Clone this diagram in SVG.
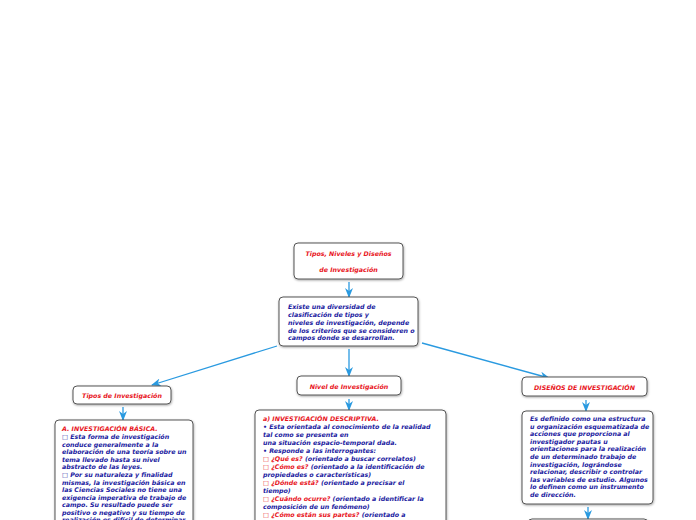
<svg xmlns="http://www.w3.org/2000/svg" width="696" height="520" viewBox="0 0 696 520">
<defs>
<marker id="ah" markerWidth="10" markerHeight="8" refX="9" refY="4" orient="auto" markerUnits="userSpaceOnUse">
<path d="M0,0 L10,4 L0,8 L3,4 Z" fill="#2a9ae0"/>
</marker>
<filter id="sh" x="-10%" y="-10%" width="120%" height="130%">
<feDropShadow dx="0.5" dy="1" stdDeviation="0.8" flood-color="#000" flood-opacity="0.35"/>
</filter>
</defs>
<style>
.box{fill:#fff;stroke:#555;stroke-width:1;filter:url(#sh)}
.t{font-family:"DejaVu Sans",Verdana,sans-serif;font-weight:bold;font-style:italic;font-size:6.3px;fill:#1a1aa0}
.r{fill:#e8141c}
.c{stroke:#2a9ae0;stroke-width:1.3;fill:none;marker-end:url(#ah)}
</style>
<rect width="696" height="520" fill="#fff"/>
<g id="connectors">
<line class="c" x1="349" y1="282" x2="349" y2="297"/>
<line class="c" x1="277" y1="346" x2="152" y2="385"/>
<line class="c" x1="349" y1="349" x2="349" y2="376"/>
<line class="c" x1="422" y1="343" x2="549" y2="378"/>
<line class="c" x1="123" y1="407" x2="123" y2="420"/>
<line class="c" x1="349" y1="399" x2="349" y2="410"/>
<line class="c" x1="586" y1="400" x2="586" y2="411"/>
<line class="c" x1="588" y1="507" x2="588" y2="519"/>
</g>
<g id="root">
<rect class="box" x="294" y="243" width="109" height="36" rx="4"/>
<text class="t r" x="348.5" y="256" text-anchor="middle">Tipos, Niveles y Diseños</text>
<text class="t r" x="348.5" y="272" text-anchor="middle">de Investigación</text>
</g>
<g id="intro">
<rect class="box" x="279" y="297" width="139" height="49" rx="4"/>
<text class="t"><tspan x="288" y="309">Existe una diversidad de</tspan><tspan x="288" y="317">clasificación de tipos y</tspan><tspan x="288" y="325">niveles de investigación, depende</tspan><tspan x="288" y="333">de los criterios que se consideren o</tspan><tspan x="288" y="340">campos donde se desarrollan.</tspan></text>
</g>
<g id="tipos">
<rect class="box" x="73" y="386" width="98" height="18" rx="4"/>
<text class="t r" x="122" y="397.5" text-anchor="middle">Tipos de Investigación</text>
</g>
<g id="nivel">
<rect class="box" x="297" y="376" width="104" height="19" rx="4"/>
<text class="t r" x="349" y="388.5" text-anchor="middle">Nivel de Investigación</text>
</g>
<g id="disenos">
<rect class="box" x="522" y="377" width="125" height="19" rx="4"/>
<text class="t r" x="584.5" y="389.5" text-anchor="middle">DISEÑOS DE INVESTIGACIÓN</text>
</g>
<g id="basica">
<rect class="box" x="55" y="420" width="138" height="120" rx="4"/>
<text class="t"><tspan class="r" x="62" y="431">A. INVESTIGACIÓN BÁSICA.</tspan><tspan x="62" y="439">□ Esta forma de investigación</tspan><tspan x="62" y="446.5">conduce generalmente a la</tspan><tspan x="62" y="454">elaboración de una teoría sobre un</tspan><tspan x="62" y="461.5">tema llevado hasta su nivel</tspan><tspan x="62" y="469">abstracto de las leyes.</tspan><tspan x="62" y="477">□ Por su naturaleza y finalidad</tspan><tspan x="62" y="484.5">mismas, la investigación básica en</tspan><tspan x="62" y="492">las Ciencias Sociales no tiene una</tspan><tspan x="62" y="499.5">exigencia imperativa de trabajo de</tspan><tspan x="62" y="507">campo. Su resultado puede ser</tspan><tspan x="62" y="514.5">positivo o negativo y su tiempo de</tspan><tspan x="62" y="522">realización es difícil de determinar</tspan></text>
</g>
<g id="descriptiva">
<rect class="box" x="255" y="410" width="191" height="130" rx="4"/>
<text class="t"><tspan class="r" x="263" y="421">a) INVESTIGACIÓN DESCRIPTIVA.</tspan><tspan x="263" y="429">• Esta orientada al conocimiento de la realidad</tspan><tspan x="263" y="437">tal como se presenta en</tspan><tspan x="263" y="445">una situación espacio-temporal dada.</tspan><tspan x="263" y="453">• Responde a las interrogantes:</tspan><tspan class="r" x="263" y="461">□ ¿Qué es?</tspan><tspan> (orientado a buscar correlatos)</tspan><tspan class="r" x="263" y="469">□ ¿Cómo es?</tspan><tspan> (orientado a la identificación de</tspan><tspan x="263" y="477">propiedades o características)</tspan><tspan class="r" x="263" y="485">□ ¿Dónde está?</tspan><tspan> (orientado a precisar el</tspan><tspan x="263" y="493">tiempo)</tspan><tspan class="r" x="263" y="501">□ ¿Cuándo ocurre?</tspan><tspan> (orientado a identificar la</tspan><tspan x="263" y="509">composición de un fenómeno)</tspan><tspan class="r" x="263" y="517">□ ¿Cómo están sus partes?</tspan><tspan> (orientado a</tspan></text>
</g>
<g id="definicion">
<rect class="box" x="522" y="411" width="131" height="93" rx="4"/>
<text class="t"><tspan x="530" y="421">Es definido como una estructura</tspan><tspan x="530" y="428.6">u organización esquematizada de</tspan><tspan x="530" y="436.2">acciones que proporciona al</tspan><tspan x="530" y="443.8">investigador pautas u</tspan><tspan x="530" y="451.4">orientaciones para la realización</tspan><tspan x="530" y="459">de un determinado trabajo de</tspan><tspan x="530" y="466.6">investigación, lográndose</tspan><tspan x="530" y="474.2">relacionar, describir o controlar</tspan><tspan x="530" y="481.8">las variables de estudio. Algunos</tspan><tspan x="530" y="489.4">lo definen como un instrumento</tspan><tspan x="530" y="497">de dirección.</tspan></text>
</g>
<g id="next">
<rect class="box" x="528" y="519" width="120" height="20" rx="4"/>
</g>
</svg>
